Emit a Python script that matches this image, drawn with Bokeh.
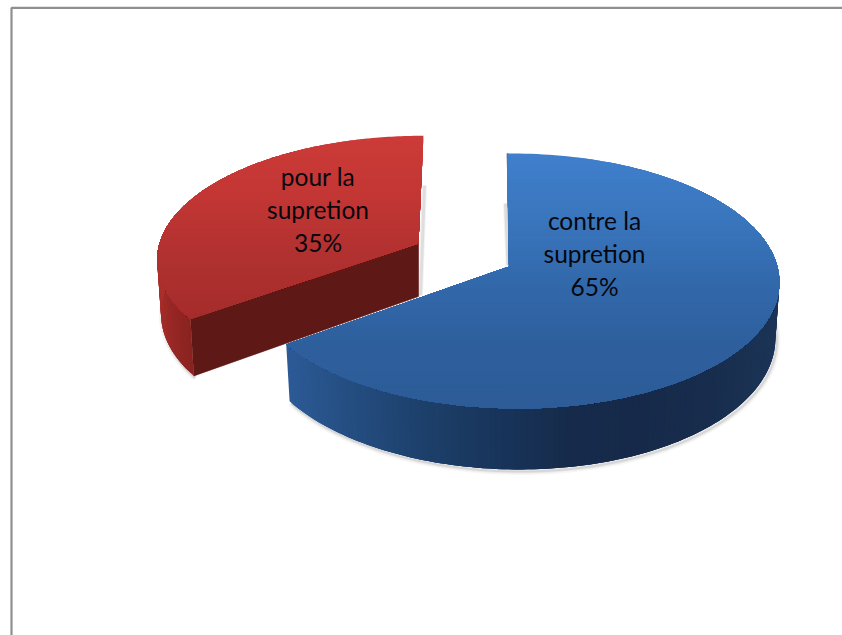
import math
from bokeh.plotting import figure
from bokeh.models import Range1d
from bokeh.core.properties import value
from bokeh.embed import file_html
from bokeh.resources import INLINE

# data
categories = ["contre la supretion", "pour la supretion"]
values = [65, 35]
label_lines = [["contre la", "supretion"], ["pour la", "supretion"]]

W, H = 842, 635
p = figure(width=W, height=H, output_backend="svg", toolbar_location=None,
           x_range=Range1d(0, W), y_range=Range1d(H, 0), min_border=0, outline_line_color=None)
p.styles = {"position": "absolute", "left": "0px", "top": "0px"}
p.axis.visible = False
p.grid.visible = False
p.background_fill_color = "#ffffff"
p.border_fill_color = "#ffffff"

# frame
p.line([11, 11, W], [H, 7.4, 7.4], line_color="#8f8f8f", line_width=2.2)


def lerp_color(stops, t):
    t = max(0, min(1, t))
    n = len(stops) - 1
    i = min(int(t * n), n - 1)
    f = t * n - i
    a, b = stops[i], stops[i + 1]
    ca = [int(a[j:j + 2], 16) for j in (1, 3, 5)]
    cb = [int(b[j:j + 2], 16) for j in (1, 3, 5)]
    return "#%02x%02x%02x" % tuple(int(round(u + (v - u) * f)) for u, v in zip(ca, cb))


class Proj:
    def __init__(s, cx, cy, a, b, k, m, shear, depth, shrink):
        s.cx, s.cy, s.a, s.b, s.k, s.m, s.shear, s.depth, s.shrink = cx, cy, a, b, k, m, shear, depth, shrink

    def top(s, th, r=1.0):
        x, y = r * math.sin(th), -r * math.cos(th)
        w = 1 - s.k * y - s.m * x
        return s.cx + (s.a * x + s.shear * y) / w, s.cy + s.b * y / w

    def bot(s, th, r=1.0):
        x, y = r * math.sin(th), -r * math.cos(th)
        w = 1 - s.k * y - s.m * x
        X = s.cx + (s.a * x * s.shrink + s.shear * y) / w
        Y = s.cy + s.b * y / w + s.depth / w
        return X, Y


def clip_below(poly, y0):
    out = []
    for i in range(len(poly)):
        a, b = poly[i], poly[(i + 1) % len(poly)]
        ia, ib = a[1] >= y0, b[1] >= y0
        if ia:
            out.append(a)
        if ia != ib:
            out.append((a[0] + (b[0] - a[0]) * (y0 - a[1]) / (b[1] - a[1]), y0))
    return out


def angles(a0, a1, n):
    return [math.radians(a0 + (a1 - a0) * i / n) for i in range(n + 1)]


def draw_shadow(pr, a0, a1, dx=1.5, dy=2.0):
    ths = angles(a0, a1, 80)
    for wid, al in ((7, 0.05), (4, 0.08), (2, 0.12)):
        xs = [pr.bot(t)[0] + dx for t in ths]
        ys = [pr.bot(t)[1] + dy for t in ths]
        p.line(xs, ys, line_color="#555555", line_width=wid, line_alpha=al)


def draw_wall(pr, a0, a1, color_fn, n=90):
    # painter's layering: strips overlap their neighbours, so no seams appear
    ths = angles(a0, a1, n)
    xs, ys, cs = [], [], []
    for i in range(n):
        rest = ths[i:i + 4]
        upper = [pr.top(t) for t in rest]
        lower = [pr.bot(t) for t in reversed(rest)]
        xs.append([q[0] for q in upper + lower])
        ys.append([q[1] for q in upper + lower])
        cs.append(color_fn(ths[i]))
    p.patches(xs, ys, fill_color=cs, line_color=None)


def draw_top(pr, a0, a1, stops, n=60):
    poly = [(pr.cx, pr.cy)] + [pr.top(t) for t in angles(a0, a1, 160)]
    ymin = min(q[1] for q in poly)
    ymax = max(q[1] for q in poly)
    xs, ys, cs = [], [], []
    for i in range(n):
        y0 = ymin + (ymax - ymin) * i / n
        pts = clip_below(poly, y0)
        if len(pts) < 3:
            continue
        xs.append([q[0] for q in pts])
        ys.append([q[1] for q in pts])
        cs.append(lerp_color(stops, (i + 0.5) / n))
    p.patches(xs, ys, fill_color=cs, line_color=None)


split = 360.0 * values[0] / sum(values)

blue = Proj(508.5, 266, 263, 125.8, 0.1137, 0.02, 2.2, 54, 0.985)
red = Proj(418, 243, 259, 120, 0.1137, 0.0, -5.5, 53, 0.985)

# --- red (exploded) slice
draw_shadow(red, split, 300)
c = red.cx, red.cy
cb = c[0], c[1] + red.depth
corner, cornerb = red.top(math.radians(split)), red.bot(math.radians(split))
# soft shadow beside the straight edge
for wid, al in ((5, 0.08), (3, 0.14)):
    p.line([424, 420], [185, 295], line_color="#666666", line_width=wid, line_alpha=al)
p.patch([c[0], corner[0], cornerb[0], cb[0]], [c[1], corner[1], cornerb[1], cb[1]],
        fill_color="#5e1815", line_color="#5e1815", line_width=0.6)
red_wall = ["#8a2320", "#a12b28", "#ab2f2c", "#b03230"]
draw_wall(red, split, 285, lambda t: lerp_color(red_wall, (math.degrees(t) - split) / (285 - split)), 40)
draw_top(red, split, 360, ["#cc3b38", "#c23634", "#b03130", "#a42c2a"])

# --- blue slice
draw_shadow(blue, 60, split)
for wid, al in ((5, 0.08), (3, 0.16)):
    p.line([505, 507.5], [203, 265], line_color="#666666", line_width=wid, line_alpha=al)
wall_stops = ["#1b3456", "#182d4d", "#16294a", "#162b4b", "#18345a", "#1c3f69", "#234c7e", "#2c5a96"]
xl, xr = 285.0, 779.0
draw_wall(blue, split, 60, lambda t: lerp_color(wall_stops, (xr - blue.top(t)[0]) / (xr - xl)), 140)
p.line([507, 509], [153, 266], line_color="#1c3f69", line_width=1.6)
draw_top(blue, 0, split, ["#3f7fcc", "#3a76be", "#3269ab", "#2e5f9d", "#2d5c97"])

# --- labels
cx_lab = [594, 317.5]
cy_lab = [220, 176]
for lines, v, x0, y0 in zip(label_lines, values, cx_lab, cy_lab):
    rows = lines + [f"{v}%"]
    p.text([x0] * 3, [y0 + 32.8 * i for i in range(3)], text=rows,
           text_font=value("Lato"), text_font_size="24.5px", text_color="#07070f",
           text_align="center", text_baseline="middle")

open("out.html", "w").write(file_html(p, INLINE))
